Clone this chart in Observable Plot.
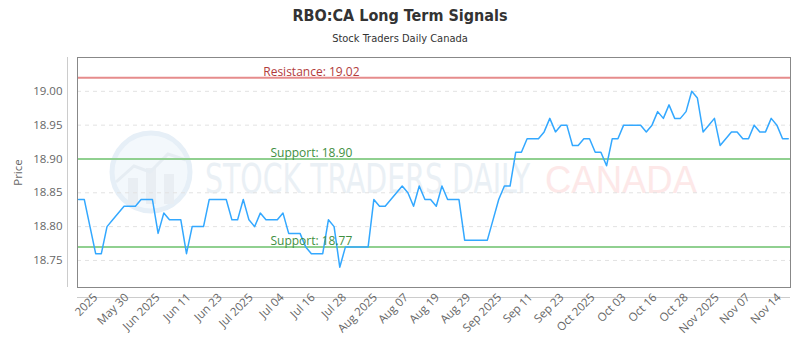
<!DOCTYPE html>
<html><head><meta charset="utf-8">
<script src="https://cdn.jsdelivr.net/npm/d3@7"></script>
<script src="https://cdn.jsdelivr.net/npm/@observablehq/plot@0.6"></script>
<style>
body{margin:0;background:#fff;}
#wrap{position:relative;width:800px;height:350px;overflow:hidden;background:#fff;}
#title{position:absolute;top:6px;left:0;width:800px;text-align:center;font:bold 16px "Liberation Sans Narrow","DejaVu Sans Condensed",Roboto,sans-serif;color:#333;}
#subtitle{position:absolute;top:32px;left:0;width:800px;text-align:center;font:11px "Liberation Sans Narrow","DejaVu Sans Condensed",Roboto,sans-serif;color:#333;}
#wm{position:absolute;top:0;left:0;z-index:0;}
#chart{position:absolute;top:50px;left:0;z-index:1;}
</style>
</head><body>
<div id="wrap">
<svg id="wm" width="800" height="350">
  <circle cx="151" cy="172" r="39" fill="#f3f8fc" stroke="#e6eff7" stroke-width="5"/>
  <rect x="128" y="178" width="10" height="26" fill="#e9eef3"/>
  <rect x="146" y="168" width="10" height="36" fill="#e9eef3"/>
  <rect x="164" y="174" width="10" height="30" fill="#e9eef3"/>
  <polyline points="116,182 134,166 150,172 168,154 186,160" fill="none" stroke="#e6edf3" stroke-width="3"/>
  <g transform="translate(0,193) scale(1,1.2)">
    <text x="205" y="0" textLength="325" lengthAdjust="spacingAndGlyphs" font-family="Liberation Sans Narrow, DejaVu Sans Condensed, sans-serif" font-size="34" fill="#eaf0f5">STOCK TRADERS DAILY</text>
    <text x="545" y="0" textLength="152" lengthAdjust="spacingAndGlyphs" font-family="Liberation Sans, sans-serif" font-size="32" fill="#fde8e8">CANADA</text>
  </g>
</svg>
<div id="title">RBO:CA Long Term Signals</div>
<div id="subtitle">Stock Traders Daily Canada</div>
<div id="chart"></div>
</div>
<script>
// Daily closing prices (trading days, in order)
const prices = [
  18.84,18.84,18.80,18.76,18.76,18.80,18.81,18.82,18.83,18.83,
  18.83,18.84,18.84,18.84,18.79,18.82,18.81,18.81,18.81,18.76,
  18.80,18.80,18.80,18.84,18.84,18.84,18.84,18.81,18.81,18.84,
  18.81,18.80,18.82,18.81,18.81,18.81,18.82,18.79,18.79,18.79,
  18.77,18.76,18.76,18.76,18.81,18.80,18.74,18.77,18.77,18.77,
  18.77,18.77,18.84,18.83,18.83,18.84,18.85,18.86,18.85,18.83,
  18.86,18.84,18.84,18.83,18.86,18.84,18.84,18.84,18.78,18.78,
  18.78,18.78,18.78,18.81,18.84,18.86,18.86,18.91,18.91,18.93,
  18.93,18.93,18.94,18.96,18.94,18.95,18.95,18.92,18.92,18.93,
  18.93,18.91,18.91,18.89,18.93,18.93,18.95,18.95,18.95,18.95,
  18.94,18.95,18.97,18.96,18.98,18.96,18.96,18.97,19.00,18.99,
  18.94,18.95,18.96,18.92,18.93,18.94,18.94,18.93,18.93,18.95,
  18.94,18.94,18.96,18.95,18.93,18.93
];
const xLabels = ["2025","May 30","Jun 2025","Jun 11","Jun 23","Jul 2025","Jul 04","Jul 16","Jul 28","Aug 2025","Aug 07","Aug 19","Aug 29","Sep 2025","Sep 11","Sep 23","Oct 2025","Oct 03","Oct 16","Oct 28","Nov 2025","Nov 07","Nov 14"];
const yTicks = [18.75, 18.80, 18.85, 18.90, 18.95, 19.00];
const resistanceLevels = [19.02];
const supportLevels = [18.90, 18.77];

const n = prices.length;
const data = prices.map((p, i) => ({i, p}));
const levels = [
  ...resistanceLevels.map(v => ({v, label: `Resistance: ${v.toFixed(2)}`, color: "#b23b3b"})),
  ...supportLevels.map(v => ({v, label: `Support: ${v.toFixed(2)}`, color: "#3f8f3f"}))
];
// category labels spread evenly along the axis
const first = 3.0, last = 123.4;
const xTickPos = xLabels.map((_, k) => first + k * (last - first) / (xLabels.length - 1));
const tickMap = new Map(xTickPos.map((p, k) => [p, xLabels[k]]));
const labelX = 41;

const chart = Plot.plot({
  width: 800, height: 300,
  marginTop: 7, marginBottom: 63, marginLeft: 77, marginRight: 10,
  style: {background: "transparent", fontFamily: "'Open Sans', sans-serif", fontSize: "11px", color: "#666", overflow: "visible"},
  x: {domain: [-0.2, n - 1 + 0.4]},
  y: {domain: [18.71, 19.05]},
  marks: [
    Plot.ruleY(yTicks, {stroke: "#e2e2e2", strokeDasharray: "4,4"}),
    Plot.ruleY(resistanceLevels, {stroke: "#e68c8c", strokeWidth: 2}),
    Plot.ruleY(supportLevels, {stroke: "#90d090", strokeWidth: 2}),
    Plot.line(data, {x: "i", y: "p", stroke: "#33a8ff", strokeWidth: 1.5}),
    Plot.text(levels, {x: () => labelX, y: "v", text: "label", fill: "color", lineAnchor: "bottom", dy: -2, fontSize: 12}),
    Plot.frame({stroke: "#888"}),
    Plot.ruleY([18.71], {dy: 10, stroke: "#ccc"}),
    Plot.ruleX([-0.2], {dx: -10, stroke: "#ccc"}),
    Plot.axisY({ticks: yTicks, tickFormat: d => d.toFixed(2), tickSize: 0, tickPadding: 15, fontSize: 11.5,
      label: "Price", labelAnchor: "center", labelOffset: 64, labelArrow: "none"}),
    Plot.axisX({ticks: xTickPos, tickFormat: d => tickMap.get(d), tickRotate: -45, tickSize: 0, tickPadding: 8, fontSize: 11.5, label: null})
  ]
});
document.getElementById("chart").appendChild(chart);
</script>
</body></html>
